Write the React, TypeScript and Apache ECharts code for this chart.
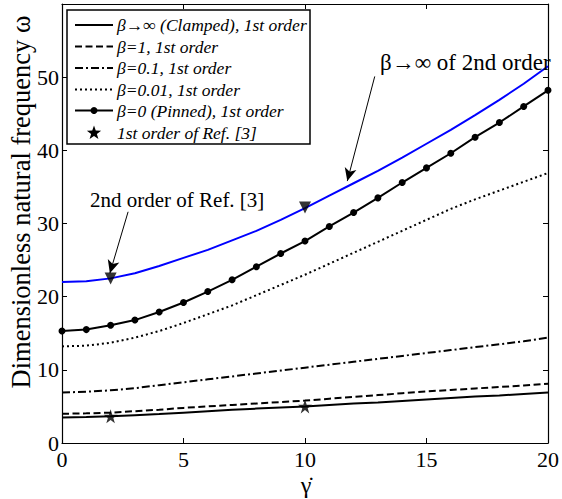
import React, { useEffect, useRef } from "react";
import * as echarts from "echarts";

const gammaDot = [0, 1, 2, 3, 4, 5, 6, 7, 8, 9, 10, 11, 12, 13, 14, 15, 16, 17, 18, 19, 20];
const clamped = [3.5, 3.55, 3.65, 3.8, 3.95, 4.15, 4.35, 4.55, 4.7, 4.85, 5.0, 5.2, 5.4, 5.55, 5.75, 5.95, 6.15, 6.35, 6.5, 6.7, 6.9];
const beta1 = [4.0, 4.05, 4.15, 4.35, 4.55, 4.8, 5.0, 5.2, 5.4, 5.6, 5.8, 6.05, 6.3, 6.55, 6.8, 7.05, 7.25, 7.45, 7.65, 7.85, 8.1];
const beta01 = [6.9, 7.0, 7.2, 7.5, 7.9, 8.3, 8.7, 9.1, 9.5, 9.9, 10.3, 10.7, 11.1, 11.5, 11.9, 12.3, 12.7, 13.1, 13.5, 13.9, 14.4];
const beta001 = [13.2, 13.3, 13.7, 14.4, 15.3, 16.4, 17.6, 18.8, 20.2, 21.6, 23.0, 24.5, 26.0, 27.5, 29.0, 30.5, 32.0, 33.3, 34.5, 35.7, 36.9];
const pinned = [15.3, 15.5, 16.1, 16.8, 17.9, 19.2, 20.7, 22.3, 24.1, 25.9, 27.6, 29.6, 31.5, 33.5, 35.6, 37.6, 39.6, 41.8, 43.8, 46.0, 48.2];
const clampedSecond = [22.0, 22.1, 22.5, 23.2, 24.2, 25.3, 26.4, 27.7, 29.0, 30.5, 32.1, 33.8, 35.5, 37.2, 39.0, 40.9, 42.8, 44.8, 46.9, 49.1, 51.5];
const refFirstX = [2, 10];
const refFirstY = [3.65, 5.0];
const refSecondX = [2, 10];
const refSecondY = [22.5, 32.2];
const xTicks = [0, 5, 10, 15, 20];
const yTicks = [0, 10, 20, 30, 40, 50];

const legendNames = [
  "β→∞ (Clamped), 1st order",
  "β=1, 1st order",
  "β=0.1, 1st order",
  "β=0.01, 1st order",
  "β=0 (Pinned), 1st order",
  "1st order of Ref. [3]",
];

const pairs = (xs: number[], ys: number[]) => xs.map((x, i) => [x, ys[i]]);

const FONT = "Liberation Serif";

const DASH: Record<string, any> = {
  solid: "solid",
  dashed: [7, 3.5],
  dashdot: [8, 3, 2, 3],
  dotted: [2, 3],
};

function starPoints(cx: number, cy: number, r: number) {
  const pts: number[][] = [];
  for (let i = 0; i < 10; i++) {
    const rad = i % 2 === 0 ? r : r * 0.4;
    const a = -Math.PI / 2 + (i * Math.PI) / 5;
    pts.push([cx + rad * Math.cos(a), cy + rad * Math.sin(a)]);
  }
  return pts;
}

export default function App() {
  const ref = useRef<HTMLDivElement>(null);
  useEffect(() => {
    if (!ref.current) return;
    const chart = echarts.init(ref.current, null, { renderer: "svg" });
    const axisCommon = {
      axisLine: { show: true, onZero: false, lineStyle: { color: "#000", width: 1.2 } },
      axisTick: { show: true, inside: true, length: 5, lineStyle: { color: "#000", width: 1 } },
      splitLine: { show: false },
    };
    const lineBase = (name: string, data: number[], type: any) => ({
      name,
      type: "line",
      data: pairs(gammaDot, data),
      showSymbol: false,
      symbol: "none",
      lineStyle: { color: "#000", width: 2, type },
      itemStyle: { color: "#000" },
      z: 3,
    });

    // Legend drawn as graphics
    const rowY = [25, 46.5, 68, 89.5, 110.5, 133];
    const rowStyle = ["solid", "dashed", "dashdot", "dotted", "pinned", "star"];
    const legendEls: any[] = [
      {
        type: "rect",
        z: 1,
        shape: { x: 67, y: 10, width: 243, height: 134 },
        style: { fill: "#fff", stroke: "#000", lineWidth: 1.5 },
      },
    ];
    legendNames.forEach((name, i) => {
      const cy = rowY[i];
      const st = rowStyle[i];
      if (st !== "star") {
        const dash = st === "pinned" ? "solid" : DASH[st];
        legendEls.push({
          type: "line",
          z: 2,
          shape: { x1: 75, y1: cy, x2: 113, y2: cy },
          style: {
            stroke: "#000",
            lineWidth: 2,
            lineDash: dash === "solid" ? null : dash,
          },
        });
      }
      if (st === "pinned") {
        legendEls.push({
          type: "circle",
          z: 3,
          shape: { cx: 94, cy, r: 3.5 },
          style: { fill: "#000" },
        });
      }
      if (st === "star") {
        legendEls.push({
          type: "polygon",
          z: 3,
          shape: { points: starPoints(94, cy, 7.5) },
          style: { fill: "#000" },
        });
      }
      legendEls.push({
        type: "text",
        z: 3,
        x: 117,
        y: cy,
        style: {
          text: name,
          font: `italic 17.5px ${FONT}`,
          fill: "#000",
          verticalAlign: "middle",
        },
      });
    });

    chart.setOption({
      animation: false,
      backgroundColor: "#fff",
      grid: { left: 62, right: 12, top: 4, bottom: 56, containLabel: false },
      xAxis: [
        {
          type: "value",
          min: 0,
          max: 20,
          interval: 5,
          ...axisCommon,
          axisLabel: {
            color: "#000",
            fontFamily: FONT,
            fontSize: 22,
            margin: 5,
            formatter: (v: number) => (xTicks.includes(v) ? String(v) : ""),
          },
        },
        {
          type: "value",
          position: "top",
          min: 0,
          max: 20,
          interval: 5,
          ...axisCommon,
          axisLabel: { show: false },
        },
      ],
      yAxis: [
        {
          type: "value",
          min: 0,
          max: 60,
          interval: 10,
          ...axisCommon,
          axisLabel: {
            color: "#000",
            fontFamily: FONT,
            fontSize: 22,
            margin: 3,
            formatter: (v: number) => (yTicks.includes(v) ? String(v) : ""),
          },
        },
        {
          type: "value",
          position: "right",
          min: 0,
          max: 60,
          interval: 10,
          ...axisCommon,
          axisLabel: { show: false },
        },
      ],
      graphic: [
        ...legendEls,
        {
          type: "text",
          z: 10,
          x: 90,
          y: 200,
          style: {
            text: "2nd order of Ref. [3]",
            font: `21px ${FONT}`,
            fill: "#000",
            verticalAlign: "middle",
          },
        },
        {
          type: "text",
          z: 10,
          x: 380,
          y: 62,
          style: {
            text: "β→∞ of 2nd order",
            font: `23px ${FONT}`,
            fill: "#000",
            verticalAlign: "middle",
          },
        },
        {
          type: "text",
          z: 10,
          x: 21,
          y: 202,
          rotation: Math.PI / 2,
          style: {
            text: "Dimensionless natural frequency ω",
            font: `26.5px ${FONT}`,
            fill: "#000",
            align: "center",
            verticalAlign: "middle",
          },
        },
        {
          type: "text",
          z: 10,
          x: 306,
          y: 485,
          style: {
            text: "\u03B3\u0307",
            font: `24px ${FONT}`,
            fill: "#000",
            align: "center",
            verticalAlign: "middle",
          },
        },
      ],
      series: [
        {
          name: "β→∞ of 2nd order",
          type: "line",
          data: pairs(gammaDot, clampedSecond),
          showSymbol: false,
          symbol: "none",
          lineStyle: { color: "#0000ff", width: 2 },
          itemStyle: { color: "#0000ff" },
          z: 2,
          markLine: {
            silent: true,
            symbol: ["none", "arrow"],
            symbolSize: [9, 13],
            label: { show: false },
            lineStyle: { color: "#000", width: 1, type: "solid" },
            data: [
              [{ coord: [2.72, 31.6] }, { coord: [1.97, 23.2] }],
              [{ coord: [12.87, 50.1] }, { coord: [11.74, 35.8] }],
            ],
          },
        },
        {
          name: "2nd order of Ref. [3]",
          type: "scatter",
          data: pairs(refSecondX, refSecondY),
          symbol: "triangle",
          symbolRotate: 180,
          symbolSize: 12,
          itemStyle: { color: "#000" },
          z: 4,
        },
        lineBase(legendNames[0], clamped, DASH.solid),
        lineBase(legendNames[1], beta1, DASH.dashed),
        lineBase(legendNames[2], beta01, DASH.dashdot),
        lineBase(legendNames[3], beta001, DASH.dotted),
        {
          name: legendNames[4],
          type: "line",
          data: pairs(gammaDot, pinned),
          showSymbol: true,
          symbol: "circle",
          symbolSize: 7,
          lineStyle: { color: "#000", width: 2 },
          itemStyle: { color: "#000" },
          z: 3,
        },
        {
          name: legendNames[5],
          type: "scatter",
          data: pairs(refFirstX, refFirstY),
          symbol:
            "path://M50,0 L61.8,35.1 L98.1,35.1 L68.6,56.7 L79.4,90.5 L50,69.1 L20.6,90.5 L31.4,56.7 L1.9,35.1 L38.2,35.1 Z",
          symbolSize: 14,
          itemStyle: { color: "#000" },
          z: 5,
        },
      ],
    });
    return () => chart.dispose();
  }, []);
  return (
    <div
      ref={ref}
      style={{ position: "fixed", left: 0, top: 0, width: 562, height: 499 }}
    />
  );
}
